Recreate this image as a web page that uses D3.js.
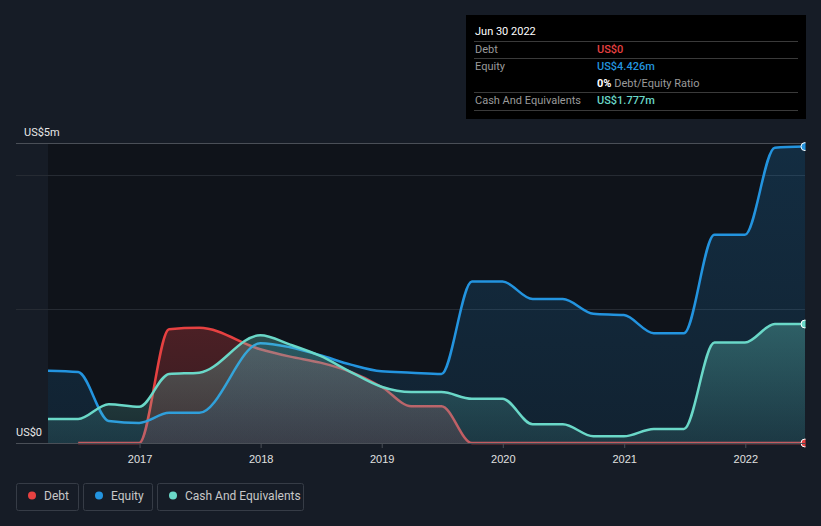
<!DOCTYPE html>
<html><head><meta charset="utf-8">
<script src="https://cdn.jsdelivr.net/npm/d3@7"></script>
<style>
html,body{margin:0;padding:0;background:#161c26;}
svg{display:block;font-family:Roboto,"Noto Sans",sans-serif;}
</style></head>
<body><svg id="c" width="821" height="526"></svg>
<script>
// quarterly dates
const quarters = ["2016-03-31","2016-06-30","2016-09-30","2016-12-31","2017-03-31","2017-06-30","2017-09-30","2017-12-31",
"2018-03-31","2018-06-30","2018-09-30","2018-12-31","2019-03-31","2019-06-30","2019-09-30","2019-12-31",
"2020-03-31","2020-06-30","2020-09-30","2020-12-31","2021-03-31","2021-06-30","2021-09-30","2021-12-31",
"2022-03-31","2022-06-30"];
// values in US$ millions (null = no report that quarter)
const debt   = [null,0,0,0,1.70,1.72,null,1.40,1.29,1.20,1.06,0.84,0.55,0.55,0,0,0,0,0,0,0,0,0,0,0,0];
const equity = [1.08,1.06,0.33,0.30,0.45,0.45,null,1.49,1.43,1.31,1.17,1.07,1.05,1.03,2.41,2.41,2.15,2.15,1.93,1.91,1.64,1.64,3.11,3.11,4.41,4.426];
const cash   = [0.36,0.36,0.58,0.54,1.03,1.05,null,1.61,1.47,1.30,1.06,0.84,0.76,0.76,0.66,0.66,0.28,0.28,0.10,0.10,0.21,0.21,1.50,1.50,1.777,1.777];
const yearTicks = ["2017","2018","2019","2020","2021","2022"];
const yLabels = ["US$0","US$5m"];
const legendItems = ["Debt","Equity","Cash And Equivalents"];
const tooltipTitle = "Jun 30 2022";
const tooltipRows = [["Debt","US$0"],["Equity","US$4.426m"],["","0%","Debt/Equity Ratio"],["Cash And Equivalents","US$1.777m"]];

const colors = {Debt:"#e64141", Equity:"#2394df", Cash:"#6ad8c8"};
const parse = d3.timeParse("%Y-%m-%d");
const dates = quarters.map(parse);

const svg = d3.select("#c");
const pLeft = 16, pRight = 805, pTop = 143, pBottom = 443;
const x = d3.scaleTime().domain([dates[0], dates[dates.length-1]]).range([48, 805]);
const y = d3.scaleLinear().domain([0, 4.48]).range([pBottom, pTop]);

// plot background
svg.append("rect").attr("x", x(dates[0])).attr("y", pTop).attr("width", x(dates[dates.length-1]) - x(dates[0])).attr("height", pBottom-pTop).attr("fill", "#0f131a");

// gridlines
svg.append("g").selectAll("line").data([2,4]).join("line")
  .attr("x1", pLeft).attr("x2", pRight).attr("y1", d=>Math.round(y(d))+0.5).attr("y2", d=>Math.round(y(d))+0.5)
  .attr("stroke", "#262b33").attr("stroke-width", 1);
svg.append("line").attr("x1", pLeft).attr("x2", pRight).attr("y1", pTop+0.5).attr("y2", pTop+0.5).attr("stroke", "#4a4f57");

const defs = svg.append("defs");
defs.append("clipPath").attr("id","clip").append("rect").attr("x", 0).attr("y", 0).attr("width", pRight+0.5).attr("height", 526);

function grad(id, color, o1, o2){
  const g = defs.append("linearGradient").attr("id", id).attr("x1",0).attr("x2",0).attr("y1",0).attr("y2",1);
  g.append("stop").attr("offset","0%").attr("stop-color",color).attr("stop-opacity",o1);
  g.append("stop").attr("offset","100%").attr("stop-color",color).attr("stop-opacity",o2);
}
grad("gDebt", colors.Debt, 0.28, 0.18);
grad("gEquity", colors.Equity, 0.2, 0.12);
grad("gCash", colors.Cash, 0.32, 0.12);

const series = [
  {name:"Debt", vals:debt, g:"gDebt"},
  {name:"Equity", vals:equity, g:"gEquity"},
  {name:"Cash", vals:cash, g:"gCash"}
];
const plot = svg.append("g").attr("clip-path","url(#clip)");
series.forEach(s => {
  const pts = dates.map((d,i)=>({d, v:s.vals[i]})).filter(p=>p.v!==null);
  const area = d3.area().curve(d3.curveMonotoneX).x(p=>x(p.d)).y0(pBottom).y1(p=>y(p.v));
  const line = d3.line().curve(d3.curveMonotoneX).x(p=>x(p.d)).y(p=>y(p.v));
  plot.append("path").datum(pts).attr("d", area).attr("fill", `url(#${s.g})`);
  plot.append("path").datum(pts).attr("d", line).attr("fill","none").attr("stroke", colors[s.name]).attr("stroke-width", 2.5);
});
// end dots
series.forEach(s => {
  const last = s.vals[s.vals.length-1];
  plot.append("circle").attr("cx", x(dates[dates.length-1])).attr("cy", y(last)).attr("r", 4)
    .attr("fill", colors[s.name]).attr("stroke", "#ffffff").attr("stroke-width", 1);
});

// x axis
const xAxis = d3.axisBottom(x).tickValues(yearTicks.map(t=>parse(t+"-01-01"))).tickFormat(d3.timeFormat("%Y")).tickSize(5).tickSizeOuter(0);
const ax = svg.append("g").attr("transform", `translate(0,${pBottom})`).call(xAxis);
ax.select(".domain").remove();
ax.selectAll(".tick line").attr("stroke", "#4a4f57");
ax.selectAll(".tick text").attr("fill", "#e0e0e0").attr("font-size", 11).attr("dy", "1.05em");
svg.append("line").attr("x1", pLeft).attr("x2", pRight).attr("y1", pBottom+0.5).attr("y2", pBottom+0.5).attr("stroke", "#4a4f57");

// y labels
svg.append("text").attr("x", 16).attr("y", 436).attr("fill", "#e8e8e8").attr("font-size", 11).text(yLabels[0]);
svg.append("text").attr("x", 24).attr("y", 136).attr("fill", "#e8e8e8").attr("font-size", 11).text(yLabels[1]);

// tooltip
const tt = svg.append("g");
tt.append("rect").attr("x", 466).attr("y", 15).attr("width", 340).attr("height", 104).attr("fill", "#000");
tt.append("text").attr("x", 475).attr("y", 35).attr("fill", "#fff").attr("font-size", 11).text(tooltipTitle);
const sepY = [41.5, 58.5, 92.5, 110.5];
sepY.forEach(sy => tt.append("line").attr("x1", 474).attr("x2", 798).attr("y1", sy).attr("y2", sy).attr("stroke", "#3a3a3a"));
const rowY = [53, 70, 87, 104];
const valColors = [colors.Debt, colors.Equity, null, colors.Cash];
tooltipRows.forEach((r,i) => {
  if (r[0]) tt.append("text").attr("x", 475).attr("y", rowY[i]).attr("fill", "#9a9a9a").attr("font-size", 11).text(r[0]);
  const t = tt.append("text").attr("x", 597).attr("y", rowY[i]).attr("font-size", 11);
  if (valColors[i]) { t.attr("fill", valColors[i]).attr("font-weight", 500).text(r[1]); }
  else {
    t.append("tspan").attr("fill", "#fff").attr("font-weight", 700).text(r[1]);
    t.append("tspan").attr("fill", "#9a9a9a").text(" " + r[2]);
  }
});

// legend
const legColors = [colors.Debt, colors.Equity, colors.Cash];
const legX = [16, 83, 157], legW = [62, 69, 146];
legendItems.forEach((name,i) => {
  const g = svg.append("g").attr("transform", `translate(${legX[i]},483)`);
  g.append("rect").attr("x", 0.5).attr("y", 0.5).attr("width", legW[i]).attr("height", 27).attr("rx", 2)
    .attr("fill", "none").attr("stroke", "#363c46");
  g.append("circle").attr("cx", 16).attr("cy", 12.5).attr("r", 4).attr("fill", legColors[i]);
  g.append("text").attr("x", 28).attr("y", 16.5).attr("fill", "#c8c8c8").attr("font-size", 12).text(name);
});
</script></body></html>
